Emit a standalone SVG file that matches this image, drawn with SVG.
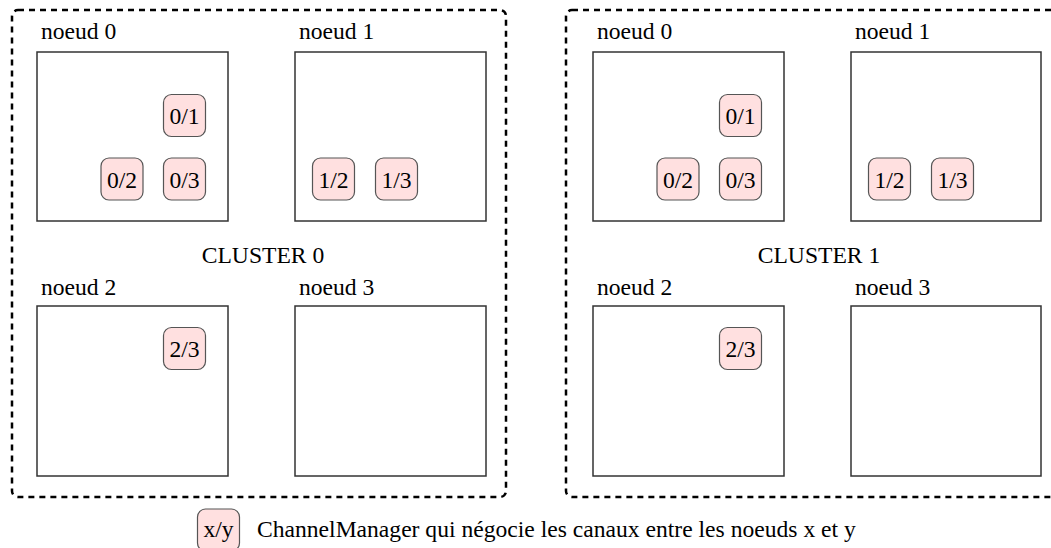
<svg xmlns="http://www.w3.org/2000/svg" width="1051" height="548" viewBox="0 0 1051 548">
<style>
.cluster{fill:none;stroke:#000;stroke-width:2.5;stroke-dasharray:6 5}
.node{fill:#fff;stroke:#333;stroke-width:1.5}
.cm{fill:#ffe0e0;stroke:#555;stroke-width:1.2}
text{font-family:"Liberation Serif","Times New Roman",serif;font-size:23.6px;fill:#000}
.c{text-anchor:middle}
</style>
<rect width="1051" height="548" fill="#fff"/>
<g id="cluster0">
<rect class="cluster" x="12" y="10" width="494" height="487" rx="6"/>
<text class="c" x="263" y="263">CLUSTER 0</text>
</g>
<g id="c0-noeud0">
<text x="41" y="39">noeud 0</text>
<rect class="node" x="37" y="52" width="191" height="169"/>
</g>
<g id="c0-noeud1">
<text x="299" y="39">noeud 1</text>
<rect class="node" x="295" y="52" width="191" height="169"/>
</g>
<g id="c0-noeud2">
<text x="41" y="295">noeud 2</text>
<rect class="node" x="37" y="306" width="191" height="170"/>
</g>
<g id="c0-noeud3">
<text x="299" y="295">noeud 3</text>
<rect class="node" x="295" y="306" width="191" height="170"/>
</g>
<g id="c0-cm01"><rect class="cm" x="163.5" y="94.5" width="42" height="42" rx="8"/><text class="c" x="184.5" y="124">0/1</text></g>
<g id="c0-cm02"><rect class="cm" x="101" y="158" width="42" height="42" rx="8"/><text class="c" x="122" y="187.5">0/2</text></g>
<g id="c0-cm03"><rect class="cm" x="163.5" y="158" width="42" height="42" rx="8"/><text class="c" x="184.5" y="187.5">0/3</text></g>
<g id="c0-cm12"><rect class="cm" x="312.5" y="158" width="42" height="42" rx="8"/><text class="c" x="333.5" y="187.5">1/2</text></g>
<g id="c0-cm13"><rect class="cm" x="375.5" y="158" width="42" height="42" rx="8"/><text class="c" x="396.5" y="187.5">1/3</text></g>
<g id="c0-cm23"><rect class="cm" x="163.5" y="327.5" width="42" height="42" rx="8"/><text class="c" x="184.5" y="357">2/3</text></g>

<g id="cluster1">
<rect class="cluster" x="566" y="10" width="494" height="487" rx="6"/>
<text class="c" x="819" y="263">CLUSTER 1</text>
</g>
<g id="c1-noeud0">
<text x="597" y="39">noeud 0</text>
<rect class="node" x="593" y="52" width="191" height="169"/>
</g>
<g id="c1-noeud1">
<text x="855" y="39">noeud 1</text>
<rect class="node" x="851" y="52" width="190" height="169"/>
</g>
<g id="c1-noeud2">
<text x="597" y="295">noeud 2</text>
<rect class="node" x="593" y="306" width="191" height="170"/>
</g>
<g id="c1-noeud3">
<text x="855" y="295">noeud 3</text>
<rect class="node" x="851" y="306" width="190" height="170"/>
</g>
<g id="c1-cm01"><rect class="cm" x="719.5" y="94.5" width="42" height="42" rx="8"/><text class="c" x="740.5" y="124">0/1</text></g>
<g id="c1-cm02"><rect class="cm" x="657" y="158" width="42" height="42" rx="8"/><text class="c" x="678" y="187.5">0/2</text></g>
<g id="c1-cm03"><rect class="cm" x="719.5" y="158" width="42" height="42" rx="8"/><text class="c" x="740.5" y="187.5">0/3</text></g>
<g id="c1-cm12"><rect class="cm" x="868.5" y="158" width="42" height="42" rx="8"/><text class="c" x="889.5" y="187.5">1/2</text></g>
<g id="c1-cm13"><rect class="cm" x="931.5" y="158" width="42" height="42" rx="8"/><text class="c" x="952.5" y="187.5">1/3</text></g>
<g id="c1-cm23"><rect class="cm" x="719.5" y="327.5" width="42" height="42" rx="8"/><text class="c" x="740.5" y="357">2/3</text></g>

<g id="connectors"></g>

<g id="legend">
<rect class="cm" x="197.5" y="509" width="42" height="42" rx="8"/>
<text class="c" x="218.5" y="537">x/y</text>
<text x="257" y="537">ChannelManager qui négocie les canaux entre les noeuds x et y</text>
</g>
</svg>
